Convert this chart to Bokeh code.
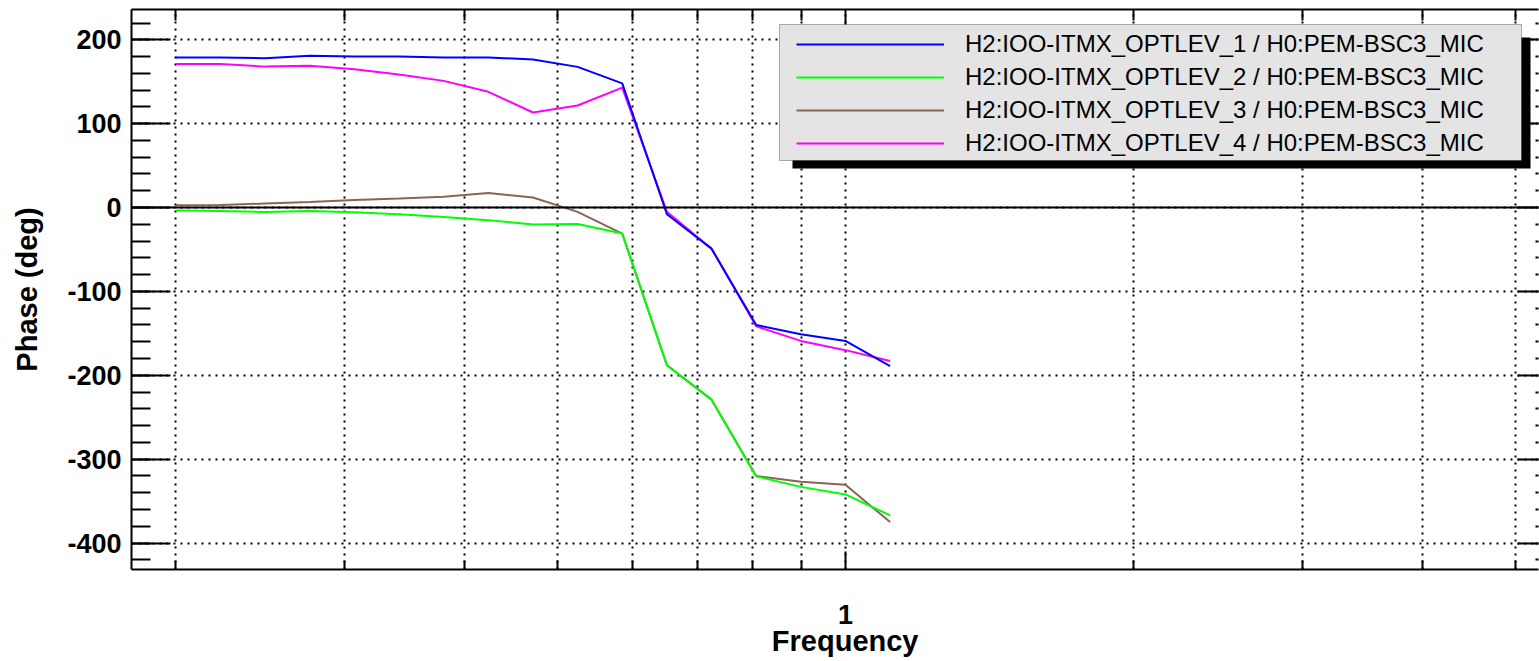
from bokeh.plotting import figure
from bokeh.models import (FixedTicker, LogAxis, LinearAxis, Span, BoxAnnotation,
                          Legend, LegendItem, Range1d)
from bokeh.embed import file_html
from bokeh.resources import INLINE

# ---------------- data ----------------
freq = [0.2, 0.2227, 0.2479, 0.2759, 0.3072, 0.3420, 0.3807, 0.4239, 0.4719,
        0.5253, 0.5848, 0.6511, 0.7248, 0.8069, 0.8984, 1.0, 1.1133]
phase_1 = [179, 179, 178, 181, 180, 180, 179, 179, 176.5, 167.7, 148,
           -8, -49, -140, -151, -159, -189]
phase_2 = [-3.6, -4, -5.2, -4, -5.6, -8, -11.2, -15, -20.3, -19.5, -31,
           -188, -229, -320.5, -333, -342, -367]
phase_3 = [2.7, 3, 4.8, 6.7, 9, 10.7, 13, 17.4, 12, -5.2, -31,
           -188, -229, -320, -327, -330.5, -375]
phase_4 = [171, 171, 168, 169, 165, 158.6, 151, 138, 113.3, 121.7, 143,
           -5, -49, -141.6, -159, -170, -183]

labels = ["H2:IOO-ITMX_OPTLEV_1 / H0:PEM-BSC3_MIC",
          "H2:IOO-ITMX_OPTLEV_2 / H0:PEM-BSC3_MIC",
          "H2:IOO-ITMX_OPTLEV_3 / H0:PEM-BSC3_MIC",
          "H2:IOO-ITMX_OPTLEV_4 / H0:PEM-BSC3_MIC"]
colors = ["#0000ff", "#00ff00", "#876657", "#ff00ff"]

x_major = [1]
x_minor = [0.2, 0.3, 0.4, 0.5, 0.6, 0.7, 0.8, 0.9, 2, 3, 4, 5]
y_major = [-400, -300, -200, -100, 0, 100, 200]
y_minor = list(range(-420, 221, 20))
x_lo, x_hi = 0.1798, 5.289
y_lo, y_hi = -431.5, 236.1

FONT = "Liberation Sans"

p = figure(width=1539, height=661, x_axis_type="log",
           x_range=Range1d(x_lo, x_hi), y_range=Range1d(y_lo, y_hi),
           output_backend="svg", toolbar_location=None,
           min_border_left=131, min_border_right=1, min_border_top=9,
           min_border_bottom=92)
p.outline_line_color = None
p.background_fill_color = "white"
p.border_fill_color = "white"

xticker = FixedTicker(ticks=x_major, minor_ticks=x_minor)
yticker = FixedTicker(ticks=y_major, minor_ticks=y_minor)

# grids
p.xgrid.ticker = xticker
p.xgrid.grid_line_color = "black"
p.xgrid.grid_line_dash = "2 5"
p.xgrid.grid_line_width = 2
p.xgrid.minor_grid_line_color = "black"
p.xgrid.minor_grid_line_dash = "2 5"
p.xgrid.minor_grid_line_width = 2
p.ygrid.ticker = yticker
p.ygrid.grid_line_color = "black"
p.ygrid.grid_line_dash = "2 5"
p.ygrid.grid_line_width = 2

p.add_layout(Span(location=0, dimension="width", line_color="black", line_width=2))

# bottom axis
xa = p.xaxis[0]
xa.ticker = xticker
xa.major_label_overrides = {1: "1"}
# leading en space + thin space nudge the centred title under the "1" decade
xa.axis_label = "\u2002\u2009Frequency"
for ax in (xa, p.yaxis[0]):
    ax.axis_line_width = 2
    ax.major_tick_line_width = 2
    ax.minor_tick_line_width = 2
    ax.major_tick_out = 0
    ax.minor_tick_out = 0
    ax.major_label_text_font = FONT
    ax.major_label_text_font_style = "bold"
    ax.major_label_text_font_size = "27px"
    ax.major_label_text_color = "black"
    ax.axis_label_text_font = FONT
    ax.axis_label_text_font_style = "bold"
    ax.axis_label_text_font_size = "29px"
    ax.axis_label_text_color = "black"
xa.major_tick_in = 18
xa.minor_tick_in = 9
xa.major_label_standoff = 35
xa.axis_label_standoff = -2

ya = p.yaxis[0]
ya.ticker = yticker
ya.major_label_overrides = {v: str(v) for v in y_major}
ya.axis_label = "Phase (deg)"
ya.major_tick_in = 39
ya.minor_tick_in = 19
ya.major_label_standoff = 10
ya.axis_label_standoff = 21

# top and right axes (ticks only)
top = LogAxis(ticker=xticker, major_label_text_font_size="1px", major_label_text_color=None,
              major_label_standoff=0,
              major_tick_in=16, major_tick_out=0, minor_tick_in=11, minor_tick_out=0,
              axis_line_width=2, major_tick_line_width=2, minor_tick_line_width=2)
p.add_layout(top, "above")
right = LinearAxis(ticker=yticker, major_label_text_font_size="1px", major_label_text_color=None,
                   major_label_standoff=0,
                   major_tick_in=21, major_tick_out=0, minor_tick_in=3, minor_tick_out=0,
                   axis_line_color=None, major_tick_line_width=2, minor_tick_line_width=2)
p.add_layout(right, "right")

# data lines (drawn 4,3,2,1 so 1 and 2 lie on top)
series = [phase_1, phase_2, phase_3, phase_4]
renderers = [None] * 4
for i in [3, 2, 1, 0]:
    renderers[i] = p.line(freq, series[i], line_color=colors[i], line_width=2)

# legend box with shadow
shadow = BoxAnnotation(left=661, right=1399, top=532, bottom=401,
                       left_units="screen", right_units="screen",
                       top_units="screen", bottom_units="screen",
                       fill_color="black", fill_alpha=1, line_color=None)
box = BoxAnnotation(left=648, right=1390, top=545, bottom=409,
                    left_units="screen", right_units="screen",
                    top_units="screen", bottom_units="screen",
                    fill_color="#e4e4e4", fill_alpha=1, line_color="black", line_width=1)
p.add_layout(shadow)
p.add_layout(box)

legend = Legend(items=[LegendItem(label=labels[i], renderers=[renderers[i]]) for i in range(4)],
                location=(665, 412), padding=8, spacing=5, margin=0,
                glyph_width=148, glyph_height=28, label_height=28, label_standoff=21,
                label_text_font=FONT, label_text_font_size="24px", label_text_color="black",
                background_fill_alpha=0, border_line_color=None)
p.add_layout(legend)

open("out.html", "w").write(file_html(p, INLINE))
